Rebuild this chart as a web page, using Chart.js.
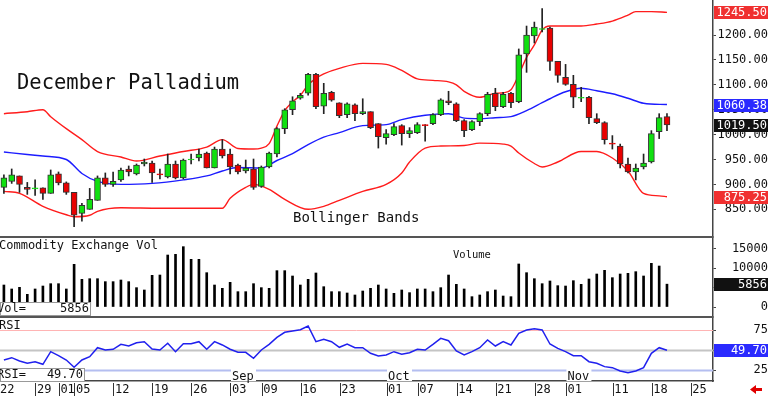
<!DOCTYPE html>
<html>
<head>
<meta charset="utf-8">
<script src="https://cdn.jsdelivr.net/npm/chart.js@4.4.1/dist/chart.umd.min.js"></script>
<style>
html, body { margin: 0; padding: 0; background: #fff; overflow: hidden; }
canvas { display: block; }
</style>
</head>
<body>
<canvas id="chart" width="768" height="398"></canvas>
<script>
// daily bars, Jul 22 .. Nov 19
var opens = [894,906,917,894,891,893,882,921,903,884,842,850,868,913,900,909,931,921,941,943,
  921,915,941,913,949,953,963,933,971,961,939,927,931,896,935,961,1012,1050,1073,1083,
  1121,1057,1085,1064,1040,1060,1042,1046,1022,994,1000,1018,1002,1004,1020,1022,1040,1068,1062,1028,
  1010,1026,1042,1083,1056,1083,1066,1162,1198,1211,1214,1147,1115,1101,1073,1075,1032,1024,983,977,
  941,925,935,945,1006,1036];
var highs = [919,931,917,904,909,893,929,925,905,884,862,892,917,923,925,933,937,941,951,947,
  931,961,947,951,961,971,965,975,990,971,941,949,951,937,965,1014,1052,1076,1083,1123,
  1123,1103,1087,1064,1064,1062,1072,1046,1022,1010,1022,1020,1014,1024,1020,1042,1072,1087,1064,1030,
  1028,1044,1085,1093,1085,1085,1172,1218,1226,1253,1216,1147,1141,1119,1095,1077,1042,1026,998,981,
  953,941,961,1008,1042,1042];
var lows = [882,902,884,880,878,870,882,899,880,815,826,850,868,896,896,906,917,919,937,904,
  911,913,911,911,941,947,933,933,953,921,921,923,890,894,933,955,1002,1040,1071,1079,
  1052,1042,1067,1034,1034,1028,1040,1012,973,981,998,979,994,1002,987,1020,1038,1060,1026,996,
  1008,1018,1038,1048,1054,1054,1064,1125,1184,1206,1129,1105,1099,1054,1066,1022,1022,981,971,933,
  923,909,931,943,992,1008];
var closes = [913,919,900,890,893,882,919,903,884,838,858,870,913,900,906,929,925,939,945,923,
  919,941,913,949,951,961,933,971,957,935,925,933,894,935,963,1012,1050,1068,1079,1121,
  1056,1083,1069,1038,1062,1042,1046,1014,996,1002,1016,1002,1008,1020,1018,1040,1070,1064,1028,1008,
  1026,1042,1081,1056,1081,1064,1160,1200,1216,1213,1147,1119,1101,1075,1075,1034,1024,990,981,941,
  925,933,943,1002,1034,1019.5];
var volumes = [5640,4620,5050,3250,4620,5380,5980,5980,4620,10940,7090,7260,7260,6500,6500,6920,6500,4960,4360,8120,
  8200,13330,13500,15470,12220,12220,8800,5640,4790,6320,3930,3930,5980,4960,4790,9320,9320,7950,5640,7090,
  8720,5210,3930,3930,3590,3080,4100,4790,5640,4620,3500,4360,3680,4620,4620,3930,4960,8200,5810,4620,
  2650,3080,3930,4360,2820,2650,11030,8800,7260,5980,6670,5470,5380,6750,5810,7180,8460,9400,7520,8460,
  8630,9060,7950,11200,10510,5856];
var rsi = [37.5,40.4,36.3,33.4,35.4,32.1,47.9,42.9,37.5,28.4,37.5,41.6,52.9,50,50.9,57.1,55,59.1,60.4,51.3,
  50,58.4,47.9,57.9,57.9,60.4,50.9,60.4,56.3,50.9,47.1,47.1,39.6,50,57.1,65.8,72.1,73.8,75.4,80,
  60.4,63.4,60.4,53.4,57.5,52.9,52.9,45.9,42.5,43.8,47.9,44.6,46.6,50.9,50,57.1,64.6,61.6,48.8,43.8,
  47.9,52.9,62.5,55,60.4,56.3,70.8,75,76.6,75,57.5,52.1,47.9,42.9,42.9,35.4,33.4,29.2,27.9,23.8,
  21.7,23.8,27.9,45.9,52.9,49.7];

// bollinger bands, read at the bars listed in the *Idx arrays
var upperIdx = [0,3,5,6,8,10,12,15,17,20,23,26,28,30,32,33,34,35,36,37,38,39,40,41,43,46,49,51,53,55,57,58,59,61,63,64,65,66,67,68,69,70,74,76,78,80,81,83,85];
var upperVal = [1042,1046,1050,1036,1012,990,966,955,947,957,966,975,990,972,971,973,982,1017,1048,1066,1079,1100,1113,1122,1133,1143,1141,1129,1112,1109,1106,1100,1087,1075,1083,1084,1090,1120,1155,1180,1210,1218,1218,1222,1228,1240,1247,1247,1245.5];
var midIdx = [0,3,5,8,10,12,15,19,23,26,28,30,33,35,37,39,41,43,46,49,51,54,57,59,61,63,65,67,69,70,72,74,76,78,80,82,85];
var midVal = [965,960,957,950,922,906,900,902,909,917,927,934,933,948,962,980,995,1004,1018,1020,1030,1039,1042,1033,1032,1034,1036,1048,1064,1072,1086,1093,1088,1082,1073,1063,1060.38];
var lowerIdx = [0,2,5,8,9,11,12,15,20,28,29,31,32,34,36,39,41,43,46,49,51,52,54,56,59,61,64,65,66,68,69,71,74,76,78,80,82,84,85];
var lowerVal = [886,882,856,839,835,838,846,853,852,852,872,894,900,890,870,850,856,868,886,900,923,945,973,977,978,983,981,977,963,942,935,945,966,966,953,927,882,877,875.25];

// axis labels
var dateIdx = [0,5,8,10,15,20,25,30,34,39,44,50,54,59,64,69,73,79,84,89];
var dateLabels = ['22','29','01','05','12','19','26','03','09','16','23','01','07','14','21','28','01','11','18','25'];
var monthIdx = [30,50,73];
var monthLabels = ['Sep','Oct','Nov'];
var priceTicks = [850,900,950,1000,1050,1100,1150,1200];
var volTicks = [0,5000,10000,15000];
var rsiTicks = [25,50,75];
var rsiLevels = [75,50,25];

var GREEN = '#10e010', RED = '#e80000', MONO = 'DejaVu Sans Mono';
var last = closes.length - 1;

function pts(xs, ys) { return xs.map(function (x, k) { return {x: x, y: ys[k]}; }); }

var bodyColors = closes.map(function (c, i) { return c >= opens[i] ? GREEN : RED; });
var bodyBorders = closes.map(function (c, i) { return Math.abs(c - opens[i]) <= 3 ? bodyColors[i] : '#333'; });

var overlay = {
  id: 'overlay',
  beforeDatasetsDraw: function (chart) {
    var c = chart.ctx, a = chart.chartArea, ry = chart.scales.yRsi;
    var cols = ['#ffb4b4', '#c4c4c4', '#b4bef0'], ws = [1, 2, 2];
    rsiLevels.forEach(function (lv, k) {
      var y = Math.round(ry.getPixelForValue(lv)) + 0.5;
      c.save(); c.strokeStyle = cols[k]; c.lineWidth = ws[k];
      c.beginPath(); c.moveTo(a.left, y); c.lineTo(a.right, y); c.stroke(); c.restore();
    });
  },
  afterDraw: function (chart) {
    var c = chart.ctx, a = chart.chartArea, sx = chart.scales.x;
    var py = chart.scales.yPrice, vy = chart.scales.yVol, ry = chart.scales.yRsi;
    c.save();
    // panel separators
    c.strokeStyle = '#555'; c.lineWidth = 2;
    [vy.top, ry.top].forEach(function (y) {
      c.beginPath(); c.moveTo(0, y); c.lineTo(a.right, y); c.stroke();
    });
    c.fillStyle = '#111'; c.textBaseline = 'alphabetic'; c.textAlign = 'left';
    c.font = '20.5px ' + MONO; c.fillText('December Palladium', 17, 89);
    c.font = '14px ' + MONO; c.fillText('Bollinger Bands', 293, 222);
    c.font = '12px ' + MONO; c.fillText('Commodity Exchange Vol', -1, 249);
    c.font = '10.5px ' + MONO; c.fillText('Volume', 453, 258);
    c.fillStyle = '#fff'; c.fillRect(0, ry.top + 1, 22, 12);
    c.fillStyle = '#111'; c.font = '12px ' + MONO; c.fillText('RSI', -1, 329);

    // value boxes inside panels
    function box(x0, y0, w, h, lab, val) {
      c.fillStyle = '#fff'; c.fillRect(x0, y0, w, h);
      c.strokeStyle = '#999'; c.lineWidth = 1; c.strokeRect(x0 + 0.5, y0 + 0.5, w - 1, h - 1);
      c.fillStyle = '#111'; c.textAlign = 'left'; c.fillText(lab, -3, y0 + 10);
      c.textAlign = 'right'; c.fillText(val, x0 + w - 2, y0 + 10);
    }
    box(0, 302, 91, 14, 'Vol=', String(volumes[last]));
    box(0, 368, 85, 14, 'RSI=', rsi[last].toFixed(2));

    // month names
    c.textAlign = 'left';
    monthIdx.forEach(function (m, k) {
      var x = sx.getPixelForValue(m - 0.76);
      c.fillStyle = '#fff'; c.fillRect(x - 1, 369, 25, 12);
      c.fillStyle = '#111'; c.fillText(monthLabels[k], x, 380);
    });

    // date tick marks
    c.strokeStyle = '#333'; c.lineWidth = 1;
    dateIdx.forEach(function (d) {
      var x = Math.round(sx.getPixelForValue(Math.max(-0.5, d - 0.76)) - 1.5) + 0.5;
      if (x < 1) return;
      c.beginPath(); c.moveTo(x, 383); c.lineTo(x, 396); c.stroke();
    });

    // last value tags on the right axis
    function tag(scale, v, txt, bg) {
      var y = Math.round(scale.getPixelForValue(v));
      c.fillStyle = bg; c.fillRect(a.right + 1, y - 6, 768 - a.right - 1, 13);
      c.fillStyle = '#fff'; c.textAlign = 'right'; c.textBaseline = 'middle';
      c.fillText(txt, 767, y + 1);
    }
    c.font = '12px ' + MONO;
    tag(py, upperVal[upperVal.length - 1], upperVal[upperVal.length - 1].toFixed(2), '#f03030');
    tag(py, midVal[midVal.length - 1], midVal[midVal.length - 1].toFixed(2), '#2a2aff');
    tag(py, closes[last], closes[last].toFixed(2), '#111');
    tag(py, lowerVal[lowerVal.length - 1], lowerVal[lowerVal.length - 1].toFixed(2), '#f03030');
    tag(vy, volumes[last], String(volumes[last]), '#111');
    tag(ry, rsi[last], rsi[last].toFixed(2), '#2a2aff');

    // little red arrow bottom right
    c.fillStyle = '#e00000';
    c.beginPath(); c.moveTo(750, 389.5); c.lineTo(756, 385); c.lineTo(756, 388); c.lineTo(762, 388);
    c.lineTo(762, 391); c.lineTo(756, 391); c.lineTo(756, 394); c.closePath(); c.fill();
    c.restore();
  }
};

function yAxis(weight, min, max, ticks, fmt) {
  return {
    type: 'linear', position: 'right', stack: 'panes', stackWeight: weight,
    min: min, max: max, offset: false,
    afterBuildTicks: function (s) { s.ticks = ticks.map(function (v) { return {value: v}; }); },
    afterFit: function (s) { s.width = 55; s.paddingTop = 0; s.paddingBottom = 0; },
    grid: { drawOnChartArea: false, tickLength: 3, color: '#444' },
    border: { color: '#444', width: 1.5 },
    ticks: { autoSkip: false, crossAlign: 'far', padding: 2, color: '#111',
      font: { family: MONO, size: 12 }, callback: fmt }
  };
}

new Chart(document.getElementById('chart'), {
  type: 'bar',
  data: {
    datasets: [
      { type: 'line', yAxisID: 'yPrice', data: pts(upperIdx, upperVal), borderColor: '#ff1c1c',
        borderWidth: 1.4, pointRadius: 0, cubicInterpolationMode: 'monotone', order: 5 },
      { type: 'line', yAxisID: 'yPrice', data: pts(midIdx, midVal), borderColor: '#1c1cff',
        borderWidth: 1.4, pointRadius: 0, cubicInterpolationMode: 'monotone', order: 5 },
      { type: 'line', yAxisID: 'yPrice', data: pts(lowerIdx, lowerVal), borderColor: '#ff1c1c',
        borderWidth: 1.4, pointRadius: 0, cubicInterpolationMode: 'monotone', order: 5 },
      { yAxisID: 'yPrice', data: highs.map(function (h, i) { return {x: i, y: [lows[i], h]}; }),
        backgroundColor: '#222', barThickness: 1, grouped: false, order: 4 },
      { yAxisID: 'yPrice', data: opens.map(function (o, i) { return {x: i, y: [o, closes[i]]}; }),
        backgroundColor: bodyColors, borderColor: bodyBorders, borderWidth: 1, borderSkipped: false,
        barThickness: 6, grouped: false, order: 3 },
      { yAxisID: 'yVol', data: volumes.map(function (v, i) { return {x: i, y: v}; }),
        backgroundColor: '#000', barThickness: 2, grouped: false, order: 3 },
      { type: 'line', yAxisID: 'yRsi', data: rsi.map(function (v, i) { return {x: i, y: v}; }),
        borderColor: '#2020ee', borderWidth: 1.5, pointRadius: 0, tension: 0, order: 2 }
    ]
  },
  options: {
    responsive: false, animation: false, devicePixelRatio: 1,
    layout: { padding: 0 },
    plugins: { legend: { display: false }, tooltip: { enabled: false } },
    scales: {
      x: {
        type: 'linear', position: 'bottom', min: -0.5, max: 90.9, offset: false,
        afterBuildTicks: function (s) {
          s.ticks = dateIdx.map(function (d) { return {value: Math.max(-0.5, d - 0.76)}; });
        },
        afterFit: function (s) { s.height = 17; s.paddingLeft = 0; s.paddingRight = 0; },
        grid: { drawOnChartArea: false, drawTicks: false },
        border: { color: '#444', width: 1.5 },
        ticks: { autoSkip: false, maxRotation: 0, align: 'start', padding: 2, color: '#111',
          font: { family: MONO, size: 12 },
          callback: function (v, k) { return dateLabels[k]; } }
      },
      yPrice: yAxis(237, 794.4, 1270.3, priceTicks, function (v) { return v.toFixed(2); }),
      yVol: yAxis(80, -2564, 17950, volTicks, function (v) { return String(v); }),
      yRsi: yAxis(64, 11.25, 91.25, rsiTicks, function (v) { return String(v); })
    }
  },
  plugins: [overlay]
});
</script>
</body>
</html>
